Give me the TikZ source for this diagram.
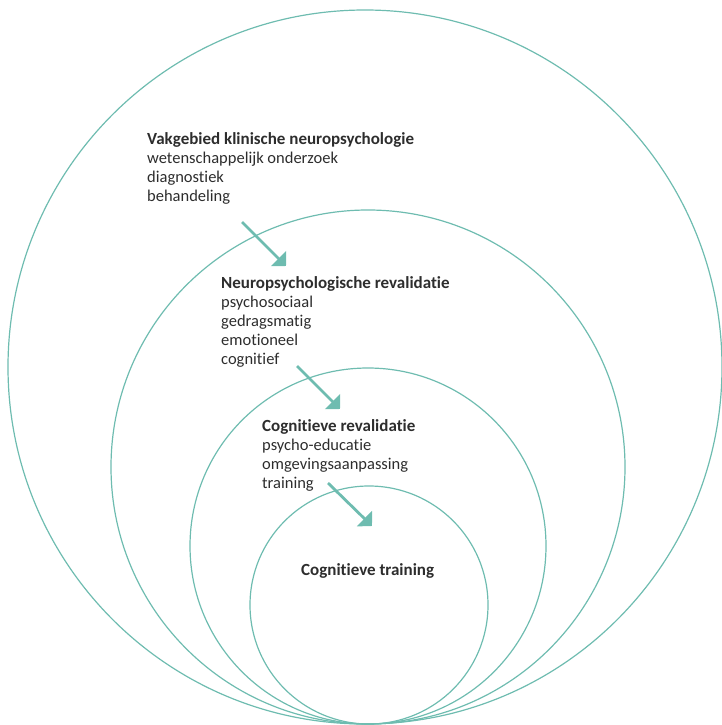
\documentclass[tikz,border=0pt]{standalone}
\usepackage{fontspec}
\setmainfont[Ligatures=NoCommon]{Carlito}
\usepackage{tikz}
\usetikzlibrary{arrows.meta}
\definecolor{groen}{RGB}{110,188,176}
\definecolor{tekst}{RGB}{45,45,45}
\newcommand{\kop}[1]{{\fontsize{17}{19}\selectfont\bfseries #1}}

\begin{document}
\begin{tikzpicture}[x=1pt,y=-1pt,
  cirkel/.style={draw=groen,line width=1.2pt},
  pijl/.style={draw=groen,line width=2.8pt,-{Triangle[length=10.6pt,width=21.2pt,fill=groen]}},
  blok/.style={anchor=base west,inner sep=0pt,align=left,text=tekst,font=\fontsize{16.5}{19}\selectfont}]
\useasboundingbox (0,0) rectangle (722,725);

%cirkels
\draw[cirkel] (365,367) circle (357);
\draw[cirkel] (368,467) circle (257);
\draw[cirkel] (368,546) circle (178);
\draw[cirkel] (369,605) circle (119);
%fin

%teksten (anker = basislijn van de laatste regel)
\node[blok] (vakgebied) at (147,201) {\kop{Vakgebied klinische neuropsychologie}\\wetenschappelijk onderzoek\\diagnostiek\\behandeling};
\node[blok] (neuro) at (221,364) {\kop{Neuropsychologische revalidatie}\\psychosociaal\\gedragsmatig\\emotioneel\\cognitief};
\node[blok] (cogrev) at (262,488) {\kop{Cognitieve revalidatie}\\psycho-educatie\\omgevingsaanpassing\\training};
\node[blok] (cogtrain) at (301,575) {\kop{Cognitieve training}};
%fin

%pijlen
\coordinate (p1a) at (242,222); \coordinate (p1b) at (286,266);
\coordinate (p2a) at (297,366); \coordinate (p2b) at (340,409);
\coordinate (p3a) at (328,483); \coordinate (p3b) at (372,526);
\draw[pijl] (p1a) -- (p1b);
\draw[pijl] (p2a) -- (p2b);
\draw[pijl] (p3a) -- (p3b);
%fin
\end{tikzpicture}
\end{document}
